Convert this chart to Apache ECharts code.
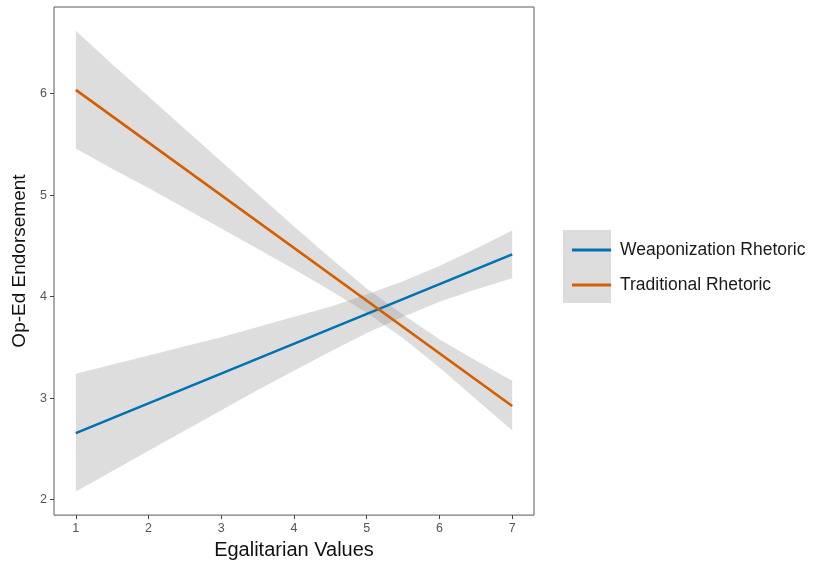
<!DOCTYPE html>
<html>
<head>
<meta charset="utf-8">
<script src="https://cdn.jsdelivr.net/npm/echarts@6/dist/echarts.min.js"></script>
<style>html,body{margin:0;padding:0;background:#fff}#c{width:838px;height:565px}</style>
</head>
<body>
<div id="c"></div>
<script>
// Data
const xTicks = [1, 2, 3, 4, 5, 6, 7];
const yTicks = [2, 3, 4, 5, 6];
const seriesNames = ['Weaponization Rhetoric', 'Traditional Rhetoric'];
const ribbonX = [1, 1.5, 2, 2.5, 3, 3.5, 4, 4.5, 5, 5.5, 6, 6.5, 7];
const weapLine = [[1, 2.655], [7, 4.416]];
const weapLower = [2.08, 2.28, 2.48, 2.68, 2.88, 3.08, 3.27, 3.46, 3.64, 3.80, 3.95, 4.07, 4.18];
const weapUpper = [3.24, 3.33, 3.42, 3.51, 3.60, 3.70, 3.80, 3.90, 4.02, 4.15, 4.30, 4.47, 4.65];
const tradLine = [[1, 6.036], [7, 2.922]];
const tradLower = [5.46, 5.26, 5.07, 4.87, 4.67, 4.47, 4.27, 4.06, 3.84, 3.59, 3.30, 2.99, 2.68];
const tradUpper = [6.62, 6.29, 5.97, 5.65, 5.33, 5.01, 4.69, 4.38, 4.08, 3.82, 3.58, 3.37, 3.17];

const chart = echarts.init(document.getElementById('c'), null, {renderer: 'canvas'});

function ribbonSeries(lower, upper) {
  const data = ribbonX.map((x, i) => [x, lower[i], upper[i]]);
  return {
    type: 'custom',
    silent: true,
    z: 1,
    data: data,
    encode: {x: 0, y: [1, 2]},
    renderItem: function (params, api) {
      if (params.dataIndex !== 0) return null;
      const pts = [];
      for (let i = 0; i < data.length; i++) pts.push(api.coord([data[i][0], data[i][2]]));
      for (let i = data.length - 1; i >= 0; i--) pts.push(api.coord([data[i][0], data[i][1]]));
      return {
        type: 'polygon',
        shape: {points: pts},
        style: {fill: 'rgba(153,153,153,0.33)', stroke: null}
      };
    }
  };
}

const option = {
  backgroundColor: '#ffffff',
  animation: false,
  textStyle: {fontFamily: 'Liberation Sans, Arial, sans-serif'},
  grid: {
    left: 54, top: 7, right: 304, bottom: 48,
    show: true, borderColor: '#5a5a5a', borderWidth: 1, backgroundColor: '#fff'
  },
  xAxis: {
    type: 'value', min: 0.7, max: 7.3,
    name: 'Egalitarian Values', nameLocation: 'middle', nameGap: 24,
    nameTextStyle: {fontSize: 20, color: '#111'},
    axisLine: {show: false},
    axisTick: {show: true, length: 4, lineStyle: {color: '#444'}, customValues: xTicks},
    axisLabel: {color: '#555', fontSize: 12.5, margin: 7, customValues: xTicks},
    splitLine: {show: false}
  },
  yAxis: {
    type: 'value', min: 1.847, max: 6.853,
    name: 'Op-Ed Endorsement', nameLocation: 'middle', nameGap: 25,
    nameTextStyle: {fontSize: 19, color: '#111'},
    axisLine: {show: false},
    axisTick: {show: true, length: 4, lineStyle: {color: '#444'}, customValues: yTicks},
    axisLabel: {color: '#555', fontSize: 12.5, margin: 7, customValues: yTicks},
    splitLine: {show: false}
  },
  legend: {
    orient: 'vertical',
    left: 567, top: 236,
    itemWidth: 39, itemHeight: 3, itemGap: 17,
    data: seriesNames.map(n => ({name: n, icon: 'rect'})),
    textStyle: {fontSize: 17.5, color: '#1a1a1a', padding: [0, 0, 0, 4]}
  },
  graphic: [{
    type: 'rect', left: 563, top: 230, z: -1,
    shape: {width: 48, height: 73},
    style: {fill: '#dcdcdc'}
  }],
  series: [
    ribbonSeries(weapLower, weapUpper),
    ribbonSeries(tradLower, tradUpper),
    {
      name: seriesNames[0], type: 'line', data: weapLine, symbol: 'none', z: 3,
      lineStyle: {color: '#0072B2', width: 2.6}, itemStyle: {color: '#0072B2'}
    },
    {
      name: seriesNames[1], type: 'line', data: tradLine, symbol: 'none', z: 3,
      lineStyle: {color: '#D55E00', width: 2.6}, itemStyle: {color: '#D55E00'}
    }
  ]
};
chart.setOption(option);
</script>
</body>
</html>
